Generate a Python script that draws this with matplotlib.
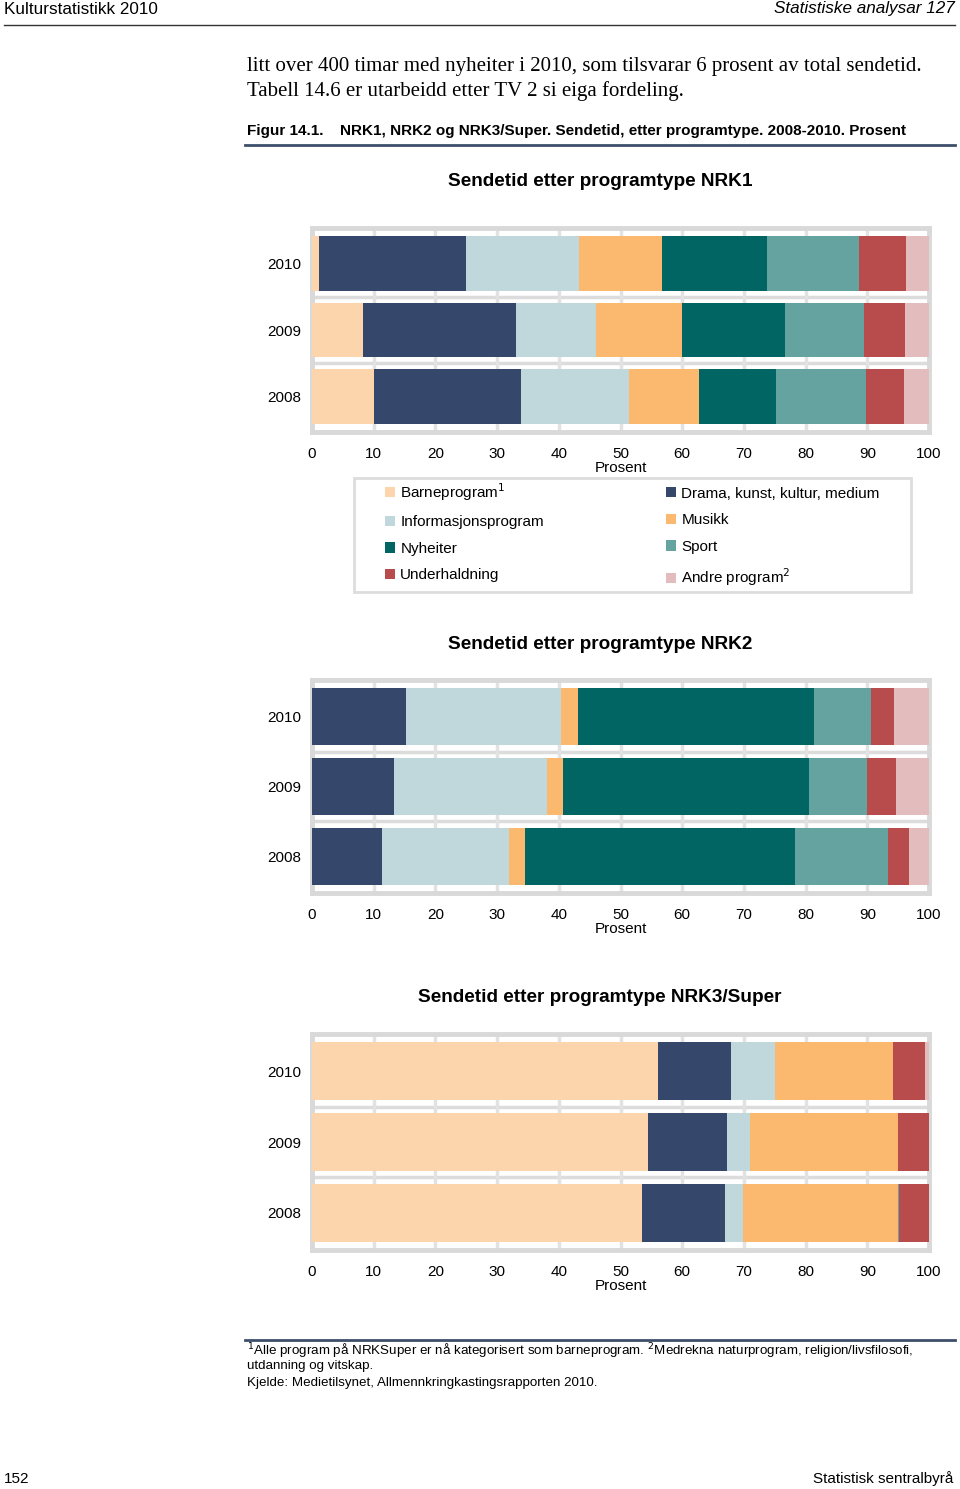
import numpy as np
import matplotlib
matplotlib.use("Agg")
from matplotlib import pyplot as plt
from matplotlib.patches import Rectangle

plt.rcParams['font.family'] = ['Liberation Sans', 'DejaVu Sans']

# data, percent of broadcast time
years = ['2010', '2009', '2008']
kategoriar = ['Barneprogram$^{1}$', 'Drama, kunst, kultur, medium', 'Informasjonsprogram',
              'Musikk', 'Nyheiter', 'Sport', 'Underhaldning', 'Andre program$^{2}$']
fargar = ['#fdd5ac', '#35476a', '#c0d8db', '#fbb86f', '#006563', '#64a39f', '#b84c4c', '#e3bcbe']

# one row per year (2010, 2009, 2008), columns in the order of kategoriar
nrk1 = [[1.1, 23.9, 18.2, 13.5, 17.0, 15.0, 7.5, 3.8],
        [8.3, 24.7, 13.1, 13.8, 16.8, 12.7, 6.7, 3.9],
        [10.0, 23.8, 17.6, 11.4, 12.4, 14.6, 6.2, 4.0]]
nrk2 = [[0.0, 15.3, 25.0, 2.8, 38.3, 9.2, 3.8, 5.6],
        [0.0, 13.3, 24.8, 2.6, 39.9, 9.3, 4.8, 5.3],
        [0.0, 11.4, 20.5, 2.7, 43.7, 15.1, 3.3, 3.3]]
nrk3 = [[56.1, 11.8, 7.2, 19.1, 0.0, 0.0, 5.1, 0.7],
        [54.5, 12.7, 3.8, 24.0, 0.0, 0.0, 5.0, 0.0],
        [53.5, 13.5, 2.8, 25.2, 0.0, 0.2, 4.8, 0.0]]

W, H = 960, 1489
fig = plt.figure(figsize=(W / 100, H / 100), dpi=100)


def fx(px):
    return px / W


def fy(py):
    return 1 - py / H


def panel(data, title, top, bottom, title_y):
    ax = fig.add_axes([fx(312), fy(bottom), fx(929 - 312), (bottom - top) / H])
    data = np.array(data)
    ypos = np.arange(len(years))[::-1]
    left = np.zeros(len(years))
    bars = []
    for i, kat in enumerate(kategoriar):
        b = ax.barh(ypos, data[:, i], left=left, height=0.82, color=fargar[i],
                    label=kat, zorder=3)
        bars.append(b)
        left += data[:, i]
    ax.set_xlim(0, 100)
    ax.set_ylim(-0.53, 2.53)
    ax.set_xticks(np.arange(0, 101, 10))
    ax.set_yticks(ypos)
    ax.set_yticklabels(years)
    ax.grid(axis='x', color='#e2e2e2', lw=2.5, zorder=0)
    for yy in [0.5, 1.5]:
        ax.axhline(yy, color='#dcdcdc', lw=2.5, zorder=1)
    for s in ax.spines.values():
        s.set_color('#d9d9d9')
        s.set_linewidth(3.5)
    ax.tick_params(length=0, labelsize=11)
    ax.tick_params(axis='x', pad=10.5)
    ax.tick_params(axis='y', pad=8)
    ax.set_xlabel('Prosent', fontsize=11, labelpad=0.5)
    fig.text(fx(600), fy(title_y), title, ha='center', va='center',
             fontsize=13.7, fontweight='bold')
    return ax, bars


# page header
fig.text(fx(4), fy(9), 'Kulturstatistikk 2010', fontsize=12.3, va='center')
fig.text(fx(955), fy(9), 'Statistiske analysar 127', fontsize=12.3, va='center',
         ha='right', style='italic')
fig.add_artist(plt.Line2D([fx(4), fx(955)], [fy(25), fy(25)], color='#333333', lw=1))

fig.text(fx(247), fy(67), 'litt over 400 timar med nyheiter i 2010, som tilsvarar 6 prosent av total sendetid.',
         family='Liberation Serif', fontsize=15, va='center')
fig.text(fx(247), fy(91), 'Tabell 14.6 er utarbeidd etter TV 2 si eiga fordeling.',
         family='Liberation Serif', fontsize=15, va='center')

fig.text(fx(247), fy(131), 'Figur 14.1.', fontsize=11, fontweight='bold', va='center')
fig.text(fx(340), fy(131), 'NRK1, NRK2 og NRK3/Super. Sendetid, etter programtype. 2008-2010. Prosent',
         fontsize=11, fontweight='bold', va='center')
fig.add_artist(plt.Line2D([fx(245), fx(955)], [fy(145), fy(145)], color='#3d4f6b', lw=2))

ax1, bars = panel(nrk1, 'Sendetid etter programtype NRK1', 228, 432, 181)
ax2, _ = panel(nrk2, 'Sendetid etter programtype NRK2', 680, 893, 644)
ax3, _ = panel(nrk3, 'Sendetid etter programtype NRK3/Super', 1034, 1250, 998)

# legend box and entries
fig.add_artist(Rectangle((fx(354), fy(592)), fx(911 - 354), 114 / H, transform=fig.transFigure,
                         facecolor='none', edgecolor='#dddddd', lw=2))
order = [0, 2, 4, 6, 1, 3, 5, 7]
leg = fig.legend([bars[i] for i in order], [kategoriar[i] for i in order], ncol=2,
                 loc='upper left', bbox_to_anchor=(fx(382), fy(478)),
                 fontsize=11, frameon=False, handlelength=0.65,
                 handleheight=0.65, handletextpad=0.35, labelspacing=0.82,
                 borderpad=0.2, borderaxespad=0, columnspacing=8.0)

# footnotes
fig.add_artist(plt.Line2D([fx(245), fx(955)], [fy(1340), fy(1340)], color='#3d4f6b', lw=2))
fig.text(fx(247), fy(1351), '$^{1}$Alle program på NRKSuper er nå kategorisert som barneprogram. '
         '$^{2}$Medrekna naturprogram, religion/livsfilosofi,', fontsize=9.6, va='center')
fig.text(fx(247), fy(1366), 'utdanning og vitskap.', fontsize=9.6, va='center')
fig.text(fx(247), fy(1383), 'Kjelde: Medietilsynet, Allmennkringkastingsrapporten 2010.',
         fontsize=9.6, va='center')

fig.text(fx(4), fy(1479), '152', fontsize=11, va='center')
fig.text(fx(953), fy(1479), 'Statistisk sentralbyrå', fontsize=11, va='center', ha='right')

fig.savefig('out.png', dpi=100)
